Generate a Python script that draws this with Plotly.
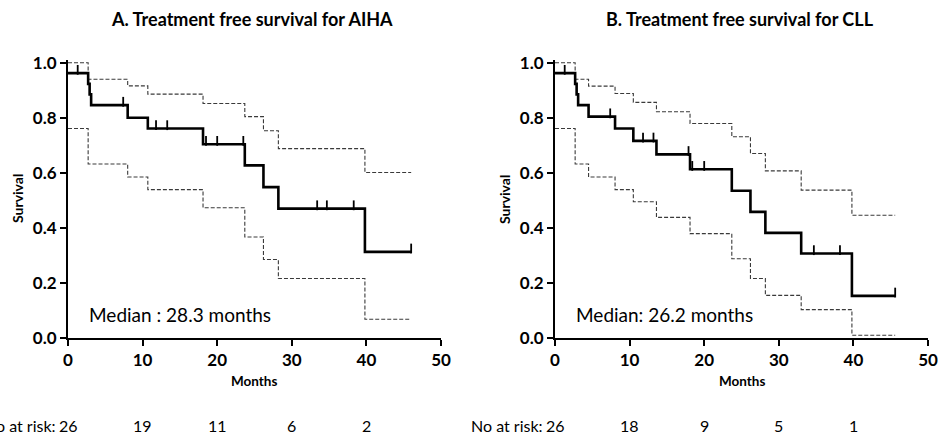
import plotly.graph_objects as go
import numpy as np

# ---------------- data ----------------
titles = ["A. Treatment free survival for AIHA", "B. Treatment free survival for CLL"]
medians = ["Median : 28.3 months", "Median: 26.2 months"]

# Panel A (AIHA)
a_t = [0, 2.7, 2.9, 3.1, 8.0, 10.7, 18.1, 23.7, 26.2, 28.2, 39.8, 46.0]
a_s = [0.962, 0.923, 0.885, 0.846, 0.800, 0.761, 0.704, 0.627, 0.548, 0.470, 0.313, 0.313]
a_ci_t = [0, 2.7, 8.0, 10.7, 18.1, 23.7, 26.2, 28.2, 39.8, 46.0]
a_up = [1.0, 0.940, 0.916, 0.886, 0.852, 0.804, 0.753, 0.688, 0.601, 0.601]
a_lo = [0.761, 0.632, 0.585, 0.539, 0.473, 0.367, 0.285, 0.216, 0.068, 0.068]
a_cens = [1.3, 7.4, 11.8, 13.3, 18.5, 20.0, 23.5, 33.4, 34.7, 38.3, 46.0]

# Panel B (CLL)
b_t = [0, 2.7, 2.9, 3.1, 4.5, 8.05, 10.5, 13.6, 18.1, 23.7, 26.2, 28.2, 33.0, 39.8, 45.6]
b_s = [0.962, 0.923, 0.885, 0.846, 0.804, 0.761, 0.716, 0.667, 0.613, 0.535, 0.458, 0.382, 0.307, 0.153, 0.153]
b_ci_t = [0, 2.7, 4.5, 8.05, 10.5, 13.6, 18.1, 23.7, 26.2, 28.2, 33.0, 39.8, 45.6]
b_up = [1.0, 0.940, 0.915, 0.888, 0.856, 0.822, 0.779, 0.731, 0.670, 0.607, 0.537, 0.446, 0.446]
b_lo = [0.761, 0.632, 0.585, 0.539, 0.495, 0.438, 0.379, 0.288, 0.216, 0.155, 0.103, 0.010, 0.010]
b_cens = [1.3, 7.4, 11.8, 13.2, 17.9, 18.4, 20.0, 34.7, 38.2, 45.6]

risk_months = [0, 10, 20, 30, 40]
a_risk = ["26", "19", "11", "6", "2"]
b_risk = ["26", "18", "9", "5", "1"]
risk_label = "No at risk:"

x_ticks = [0, 10, 20, 30, 40, 50]
y_ticks = [0.0, 0.2, 0.4, 0.6, 0.8, 1.0]

# ---------------- figure ----------------
W, H = 938, 435
FONT = "Lato"
fig = go.Figure()

def step_at(ts, ss, t):
    idx = np.searchsorted(ts, t, side="right") - 1
    return ss[max(idx, 0)]

panels = [
    ("x", "y", a_t, a_s, a_ci_t, a_up, a_lo, a_cens),
    ("x2", "y2", b_t, b_s, b_ci_t, b_up, b_lo, b_cens),
]
for xa, ya, t, s, ct, up, lo, cens in panels:
    for arr in (up, lo):
        fig.add_trace(go.Scatter(x=ct, y=arr, mode="lines", line_shape="hv",
                                 line=dict(color="#3a3a3a", width=1.1, dash="4px,2px"),
                                 xaxis=xa, yaxis=ya, showlegend=False, hoverinfo="skip"))
    fig.add_trace(go.Scatter(x=t, y=s, mode="lines", line_shape="hv",
                             line=dict(color="black", width=2.6),
                             xaxis=xa, yaxis=ya, showlegend=False))
    cy = [step_at(t, s, c) + 0.012 for c in cens]
    fig.add_trace(go.Scatter(x=cens, y=cy, mode="markers",
                             marker=dict(symbol="line-ns", size=7,
                                         line=dict(color="black", width=1.8)),
                             xaxis=xa, yaxis=ya, showlegend=False, cliponaxis=False))

px_l = [68, 555]
px_r = [441, 928]
y_bot_px, y_top_px = 338, 62.7
yr = [0, 1.01]
top_px = y_bot_px - (y_bot_px - y_top_px) * yr[1]
ydom = [(H - y_bot_px) / H, (H - top_px) / H]

axis_common = dict(showline=True, linecolor="black", linewidth=2, ticks="outside",
                   ticklen=6, tickwidth=2, tickcolor="black", showgrid=False,
                   zeroline=False, automargin=False,
                   tickfont=dict(family=FONT, size=17, color="black", weight="bold"))
fig.update_layout(
    width=W, height=H, margin=dict(l=0, r=0, t=0, b=0, autoexpand=False),
    plot_bgcolor="white", paper_bgcolor="white",
    xaxis=dict(domain=[px_l[0] / W, px_r[0] / W], range=[0, 50], tickvals=x_ticks,
               anchor="y", **axis_common),
    xaxis2=dict(domain=[px_l[1] / W, px_r[1] / W], range=[0, 50], tickvals=x_ticks,
                anchor="y2", **axis_common),
    yaxis=dict(domain=ydom, range=yr, tickvals=y_ticks, tickformat=".1f", anchor="x", **axis_common),
    yaxis2=dict(domain=ydom, range=yr, tickvals=y_ticks, tickformat=".1f", anchor="x2", **axis_common),
)

def A(text, xpx, ypx, size, bold=False, xanchor="center", angle=0, xref="paper", xval=None):
    return dict(text=text, x=(xval if xval is not None else xpx / W), y=1 - ypx / H,
                xref=xref, yref="paper", xanchor=xanchor, yanchor="middle",
                textangle=angle, showarrow=False,
                font=dict(family=FONT, size=size, color="black",
                          weight="bold" if bold else "normal"))

ann = []
centers = [(px_l[i] + px_r[i]) / 2 for i in range(2)]
for i in range(2):
    xa = "x" if i == 0 else "x2"
    ann.append(A(titles[i], centers[i] - 2, 19, 18, bold=True))
    ann.append(A("Survival", px_l[i] - 50, 199, 14, bold=True, angle=-90))
    ann.append(A("Months", centers[i], 381, 13.5, bold=True))
    ann.append(A(medians[i], px_l[i] + 19, 314, 19, xanchor="left"))
    ann.append(A(risk_label, px_l[i] - 10, 425, 16, xanchor="right"))
    vals = a_risk if i == 0 else b_risk
    for m, v in zip(risk_months, vals):
        ann.append(A(v, 0, 425, 16, xref=xa, xval=m))
fig.update_layout(annotations=ann)

fig.write_html("out.html", config={"displayModeBar": False},
               post_script="document.body.style.margin='0';document.body.style.overflow='hidden';")
